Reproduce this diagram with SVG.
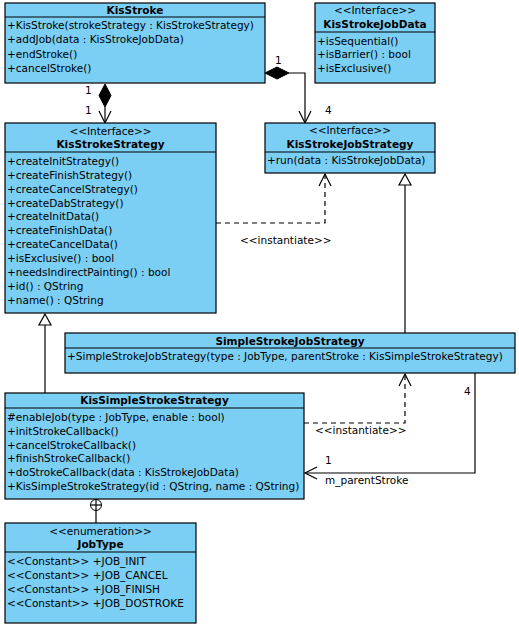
<svg xmlns="http://www.w3.org/2000/svg" width="519" height="630" viewBox="0 0 519 630">
<style>
.box{fill:#7bcff5;stroke:#000;stroke-width:1.2}
.sep{stroke:#000;stroke-width:1.2}
text{font-family:"DejaVu Sans",Verdana,sans-serif;font-size:10.5px;fill:#000}
.t{font-weight:bold;text-anchor:middle}
.s{text-anchor:middle}
.ln{fill:none;stroke:#000;stroke-width:1.2}
.dash{fill:none;stroke:#000;stroke-width:1.2;stroke-dasharray:5,4}
.open{fill:none;stroke:#000;stroke-width:1.2}
.tri{fill:#fff;stroke:#000;stroke-width:1.2}
.dia{fill:#000;stroke:#000;stroke-width:1}
</style>
<rect width="519" height="630" fill="#fff"/>
<g id="connectors">
  <polygon class="dia" points="105,84 111,95.5 105,107 99,95.5"/>
  <line class="ln" x1="105" y1="107" x2="105" y2="123"/>
  <polyline class="open" points="99,111 105,123 111,111"/>
  <text x="85" y="94">1</text>
  <text x="85" y="114">1</text>
  <polygon class="dia" points="265,73 277,67 289,73 277,79"/>
  <polyline class="ln" points="289,73 305,73 305,123"/>
  <polyline class="open" points="299,111 305,123 311,111"/>
  <text x="275" y="64">1</text>
  <text x="325" y="114">4</text>
  <polyline class="dash" points="216,223 325,223 325,174"/>
  <polyline class="open" points="319,186 325,174 331,186"/>
  <text x="240" y="244">&lt;&lt;instantiate&gt;&gt;</text>
  <line class="ln" x1="405" y1="333" x2="405" y2="185"/>
  <polygon class="tri" points="405,174 411,185 399,185"/>
  <line class="ln" x1="45" y1="393" x2="45" y2="325"/>
  <polygon class="tri" points="45,314 51,325 39,325"/>
  <polyline class="dash" points="304,423 405,423 405,374"/>
  <polyline class="open" points="399,386 405,374 411,386"/>
  <text x="315" y="434">&lt;&lt;instantiate&gt;&gt;</text>
  <polyline class="ln" points="475,373 475,473 305,473"/>
  <polyline class="open" points="317,467 305,473 317,479"/>
  <text x="464" y="395">4</text>
  <text x="325" y="464">1</text>
  <text x="325" y="484">m_parentStroke</text>
  <line class="ln" x1="96" y1="499" x2="96" y2="523"/>
  <circle cx="96" cy="505" r="5.5" fill="#fff" stroke="#000" stroke-width="1"/>
  <line class="ln" x1="90.5" y1="505" x2="101.5" y2="505"/>
  <line class="ln" x1="96" y1="499.5" x2="96" y2="510.5"/>
</g>
<g id="KisStroke">
  <rect class="box" x="5" y="3" width="260" height="80"/>
  <line class="sep" x1="5" y1="17" x2="265" y2="17"/>
  <text class="t" x="135" y="14">KisStroke</text>
  <text x="7" y="29">+KisStroke(strokeStrategy : KisStrokeStrategy)</text>
  <text x="7" y="43.3">+addJob(data : KisStrokeJobData)</text>
  <text x="7" y="57.6">+endStroke()</text>
  <text x="7" y="72">+cancelStroke()</text>
</g>
<g id="KisStrokeJobData">
  <rect class="box" x="315" y="3" width="120" height="80"/>
  <line class="sep" x1="315" y1="32" x2="435" y2="32"/>
  <text class="s" x="375" y="14">&lt;&lt;Interface&gt;&gt;</text>
  <text class="t" x="375" y="28">KisStrokeJobData</text>
  <text x="317" y="44.5">+isSequential()</text>
  <text x="317" y="58">+isBarrier() : bool</text>
  <text x="317" y="72">+isExclusive()</text>
</g>
<g id="KisStrokeJobStrategy">
  <rect class="box" x="265" y="123" width="170" height="50"/>
  <line class="sep" x1="265" y1="152" x2="435" y2="152"/>
  <text class="s" x="350" y="134">&lt;&lt;Interface&gt;&gt;</text>
  <text class="t" x="350" y="148">KisStrokeJobStrategy</text>
  <text x="267" y="164">+run(data : KisStrokeJobData)</text>
</g>
<g id="KisStrokeStrategy">
  <rect class="box" x="5" y="123" width="211" height="190"/>
  <line class="sep" x1="5" y1="152" x2="216" y2="152"/>
  <text class="s" x="110.5" y="134.5">&lt;&lt;Interface&gt;&gt;</text>
  <text class="t" x="110.5" y="148">KisStrokeStrategy</text>
  <text x="7" y="164.7">+createInitStrategy()</text>
  <text x="7" y="178.6">+createFinishStrategy()</text>
  <text x="7" y="192.6">+createCancelStrategy()</text>
  <text x="7" y="206.5">+createDabStrategy()</text>
  <text x="7" y="220.4">+createInitData()</text>
  <text x="7" y="234.3">+createFinishData()</text>
  <text x="7" y="248.3">+createCancelData()</text>
  <text x="7" y="262.2">+isExclusive() : bool</text>
  <text x="7" y="276.1">+needsIndirectPainting() : bool</text>
  <text x="7" y="290">+id() : QString</text>
  <text x="7" y="304">+name() : QString</text>
</g>
<g id="SimpleStrokeJobStrategy">
  <rect class="box" x="65" y="333" width="450" height="40"/>
  <line class="sep" x1="65" y1="348" x2="515" y2="348"/>
  <text class="t" x="290" y="344.5">SimpleStrokeJobStrategy</text>
  <text x="67" y="360">+SimpleStrokeJobStrategy(type : JobType, parentStroke : KisSimpleStrokeStrategy)</text>
</g>
<g id="KisSimpleStrokeStrategy">
  <rect class="box" x="5" y="393" width="299" height="106"/>
  <line class="sep" x1="5" y1="408" x2="304" y2="408"/>
  <text class="t" x="154.5" y="404">KisSimpleStrokeStrategy</text>
  <text x="7" y="420.7">#enableJob(type : JobType, enable : bool)</text>
  <text x="7" y="434.6">+initStrokeCallback()</text>
  <text x="7" y="448.5">+cancelStrokeCallback()</text>
  <text x="7" y="462.4">+finishStrokeCallback()</text>
  <text x="7" y="476.3">+doStrokeCallback(data : KisStrokeJobData)</text>
  <text x="7" y="490.2">+KisSimpleStrokeStrategy(id : QString, name : QString)</text>
</g>
<g id="JobType">
  <rect class="box" x="5" y="523" width="191" height="100"/>
  <line class="sep" x1="5" y1="552" x2="196" y2="552"/>
  <text class="s" x="100.5" y="534.5">&lt;&lt;enumeration&gt;&gt;</text>
  <text class="t" x="100.5" y="548">JobType</text>
  <text x="7" y="564.7">&lt;&lt;Constant&gt;&gt; +JOB_INIT</text>
  <text x="7" y="578.7">&lt;&lt;Constant&gt;&gt; +JOB_CANCEL</text>
  <text x="7" y="592.7">&lt;&lt;Constant&gt;&gt; +JOB_FINISH</text>
  <text x="7" y="606.7">&lt;&lt;Constant&gt;&gt; +JOB_DOSTROKE</text>
</g>
</svg>
